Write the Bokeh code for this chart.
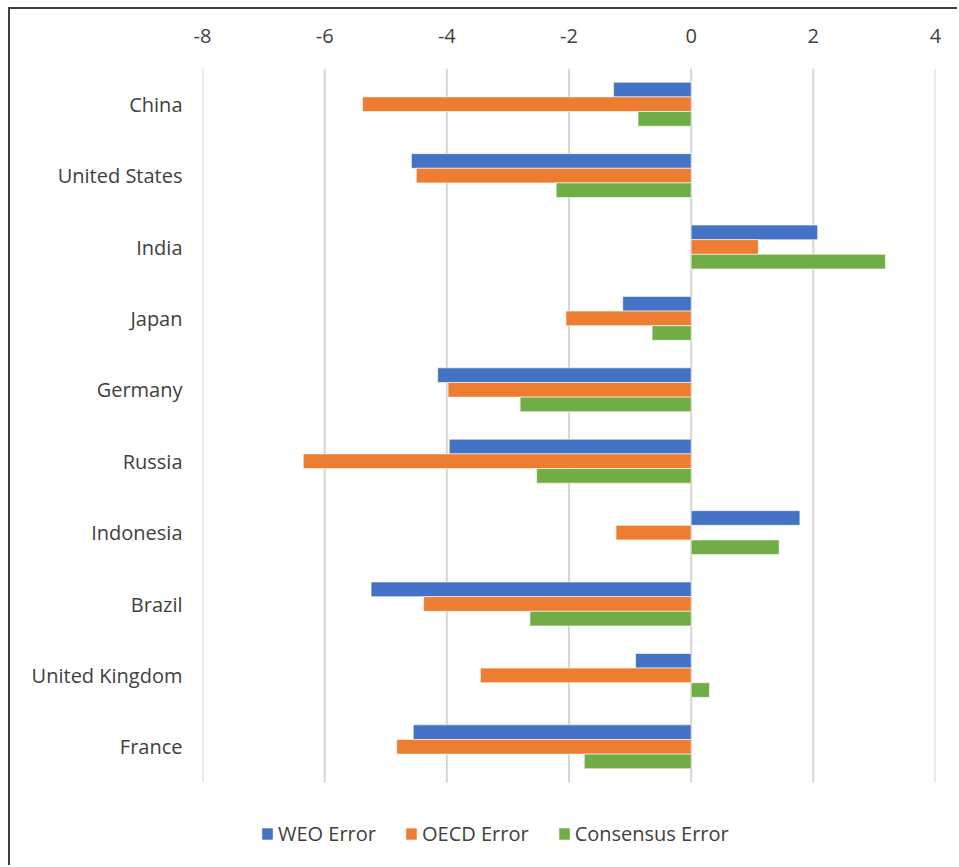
from bokeh.plotting import figure
from bokeh.models import Range1d, FixedTicker, Legend, LegendItem, ColumnDataSource
from bokeh.embed import file_html
from bokeh.resources import INLINE

# Forecast errors by country (percentage points)
countries = ["China", "United States", "India", "Japan", "Germany",
             "Russia", "Indonesia", "Brazil", "United Kingdom", "France"]
weo_error = [-1.27, -4.58, 2.07, -1.12, -4.15, -3.96, 1.78, -5.24, -0.91, -4.55]
oecd_error = [-5.38, -4.50, 1.10, -2.05, -3.98, -6.35, -1.23, -4.38, -3.45, -4.82]
consensus_error = [-0.87, -2.21, 3.18, -0.64, -2.80, -2.53, 1.44, -2.64, 0.30, -1.75]

series_names = ["WEO Error", "OECD Error", "Consensus Error"]
series_colors = ["#4472C4", "#ED7D31", "#70AD47"]

x_ticks = [-8, -6, -4, -2, 0, 2, 4]
x_tick_labels = ["-8", "-6", "-4", "-2", "0", "2", "4"]

FONT = "Open Sans"
TEXT_COLOR = "#404040"
FONT_SIZE = "20px"

# categories run top to bottom: first country gets the highest slot
n = len(countries)
slots = [n - 1 - i for i in range(n)]
bar_h = 0.205

source = ColumnDataSource(data=dict(
    country=countries,
    slot=slots,
    y_weo=[s + bar_h for s in slots],
    y_oecd=[s for s in slots],
    y_cons=[s - bar_h for s in slots],
    weo=weo_error,
    oecd=oecd_error,
    cons=consensus_error,
))

FIG_H = 858
TOP = 59
band_px = 71.4
plot_h = FIG_H - TOP
y_top = n - 0.5
y_bottom = y_top - plot_h / band_px   # room under the last category for the legend

p = figure(
    width=949, height=FIG_H,
    x_range=Range1d(-8, 4),
    y_range=Range1d(y_bottom, y_top),
    x_axis_location="above",
    output_backend="svg",
    toolbar_location=None,
    min_border_left=192, min_border_right=24,
    min_border_top=TOP, min_border_bottom=0,
)
p.styles = {
    "margin-left": "8px", "margin-top": "7px",
    "border-left": "2px solid #3f3f3f", "border-top": "2px solid #3f3f3f",
}

p.outline_line_color = None
p.background_fill_color = "white"
p.border_fill_color = "white"

# vertical gridlines limited to the category area
p.xgrid.grid_line_color = None
p.ygrid.grid_line_color = None
p.segment(x0=x_ticks, x1=x_ticks, y0=[-0.5] * len(x_ticks), y1=[y_top] * len(x_ticks),
          line_color="#d6d6d6", line_width=2)

renderers = []
for col, ycol, color in zip(["weo", "oecd", "cons"], ["y_weo", "y_oecd", "y_cons"], series_colors):
    r = p.hbar(y=ycol, left=0, right=col, height=bar_h, source=source,
               fill_color=color, line_color="white", line_width=0.6)
    renderers.append(r)

# top value axis
xa = p.xaxis[0]
xa.ticker = FixedTicker(ticks=x_ticks)
xa.major_label_overrides = {t: s for t, s in zip(x_ticks, x_tick_labels)}
xa.axis_line_color = None
xa.major_tick_line_color = None
xa.minor_tick_line_color = None
xa.major_tick_out = 0
xa.major_tick_in = 0
xa.major_label_standoff = 26
xa.major_label_text_font = FONT
xa.major_label_text_font_size = FONT_SIZE
xa.major_label_text_color = TEXT_COLOR

# category axis
ya = p.yaxis[0]
ya.ticker = FixedTicker(ticks=slots)
ya.major_label_overrides = {s: c for s, c in zip(slots, countries)}
ya.axis_line_color = None
ya.major_tick_line_color = None
ya.minor_tick_line_color = None
ya.major_tick_out = 0
ya.major_tick_in = 0
ya.major_label_standoff = 20
ya.major_label_text_font = FONT
ya.major_label_text_font_size = FONT_SIZE
ya.major_label_text_color = TEXT_COLOR

legend = Legend(
    items=[LegendItem(label=nm, renderers=[r]) for nm, r in zip(series_names, renderers)],
    orientation="horizontal",
    location=(58, 20),
    padding=0, margin=0, spacing=28,
    glyph_width=14, glyph_height=15, label_standoff=4,
    label_height=15,
    label_text_font=FONT, label_text_font_size=FONT_SIZE, label_text_color=TEXT_COLOR,
    background_fill_alpha=0, border_line_color=None,
)
p.add_layout(legend, "center")

open("out.html", "w").write(file_html(p, INLINE))
